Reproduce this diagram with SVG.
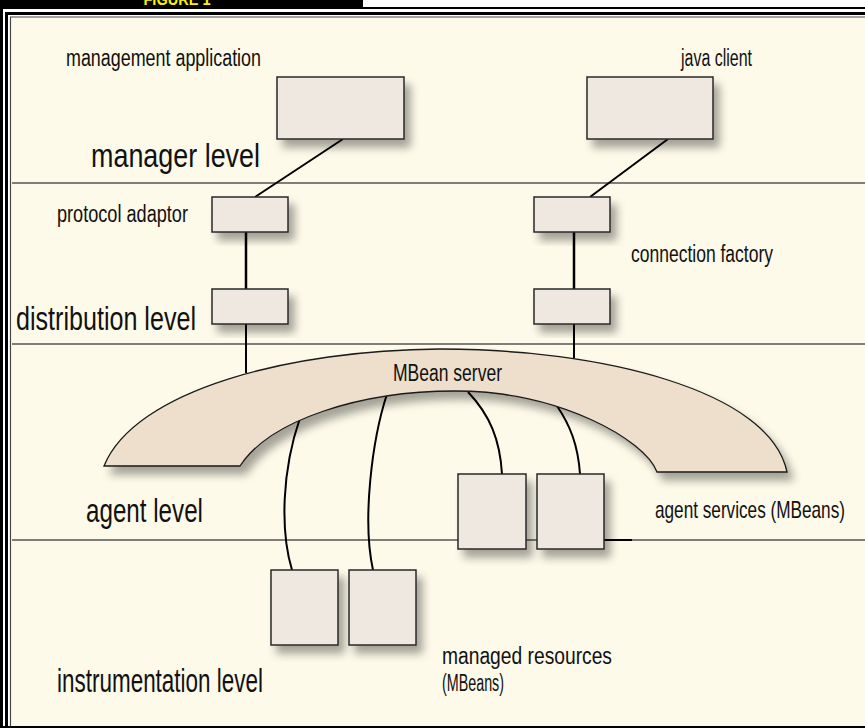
<svg xmlns="http://www.w3.org/2000/svg" width="865" height="728" viewBox="0 0 865 728">
  <defs>
    <filter id="shadow" x="-20%" y="-20%" width="150%" height="160%">
      <feDropShadow dx="6" dy="8" stdDeviation="4" flood-color="#000" flood-opacity="0.35"/>
    </filter>
    <style>
      .frame { stroke: #000; fill: none; }
      .band { stroke: #555; stroke-width: 1.5; fill: none; }
      .box { fill: #EEE8E0; stroke: #2a2a2a; stroke-width: 1.5; filter: url(#shadow); }
      .server { fill: #EDDFCB; stroke: #1a1a1a; stroke-width: 1.3; filter: url(#shadow); }
      .wire { stroke: #000; stroke-width: 2; fill: none; }
      .wire-thick { stroke: #000; stroke-width: 2.5; fill: none; }
      .lbl { font-family: "Liberation Sans", Arial, sans-serif; font-size: 23px; fill: #111; }
      .lvl { font-family: "Liberation Sans", Arial, sans-serif; font-size: 34px; fill: #111; }
      .tab { font-family: "Liberation Sans", Arial, sans-serif; font-size: 16px; font-weight: bold; fill: #FFF200; }
    </style>
  </defs>

  <!-- page background and frame -->
  <rect x="0" y="0" width="865" height="728" fill="#fff"/>
  <rect x="0" y="0" width="363" height="8" fill="#000"/>
  <text class="tab" x="177" y="5" text-anchor="middle" textLength="67" lengthAdjust="spacingAndGlyphs">FIGURE 1</text>
  <rect x="12" y="18" width="853" height="708" fill="#FDFAE9"/>
  <line class="frame" x1="0" y1="8" x2="865" y2="8" stroke-width="2"/>
  <line class="frame" x1="1.5" y1="0" x2="1.5" y2="728" stroke-width="3"/>
  <line class="frame" x1="5" y1="13.5" x2="865" y2="13.5" stroke-width="3"/>
  <line class="frame" x1="6.5" y1="12" x2="6.5" y2="728" stroke-width="3"/>
  <line x1="10" y1="17" x2="865" y2="17" stroke="#444" stroke-width="1.2"/>
  <line x1="10.5" y1="17" x2="10.5" y2="728" stroke="#444" stroke-width="1.2"/>
  <line class="frame" x1="0" y1="727" x2="865" y2="727" stroke-width="2"/>

  <!-- level separators -->
  <g id="bands">
    <line class="band" x1="12" y1="183" x2="865" y2="183"/>
    <line class="band" x1="12" y1="344" x2="865" y2="344"/>
    <line class="band" x1="12" y1="540" x2="865" y2="540"/>
    <line x1="604" y1="540" x2="632" y2="540" stroke="#000" stroke-width="2"/>
  </g>

  <!-- level labels -->
  <g id="levels">
    <text class="lvl" x="91" y="167" textLength="169" lengthAdjust="spacingAndGlyphs">manager level</text>
    <text class="lvl" x="16" y="330" textLength="180" lengthAdjust="spacingAndGlyphs">distribution level</text>
    <text class="lvl" x="86" y="522" textLength="117" lengthAdjust="spacingAndGlyphs">agent level</text>
    <text class="lvl" x="57" y="692" textLength="206" lengthAdjust="spacingAndGlyphs">instrumentation level</text>
  </g>

  <!-- connectors -->
  <g id="connectors">
    <line class="wire" x1="343" y1="139" x2="255" y2="197"/>
    <line class="wire" x1="668" y1="139" x2="590" y2="197"/>
    <line class="wire-thick" x1="246" y1="232" x2="246" y2="289"/>
    <line class="wire-thick" x1="574" y1="232" x2="574" y2="289"/>
    <line class="wire" x1="246" y1="324" x2="246" y2="373"/>
    <line class="wire" x1="574" y1="324" x2="574" y2="358"/>
    <path class="wire" d="M300,418 C282,470 280,530 292,570"/>
    <path class="wire" d="M387,394 C372,440 362,520 373,570"/>
    <path class="wire" d="M468,392 C490,415 500,440 502,474"/>
    <path class="wire" d="M557,406 C570,425 578,445 580,474"/>
  </g>

  <g id="management-application">
    <rect class="box" x="277" y="77" width="127" height="62"/>
    <text class="lbl" x="66" y="66" textLength="195" lengthAdjust="spacingAndGlyphs">management application</text>
  </g>
  <g id="java-client">
    <rect class="box" x="587" y="77" width="126" height="62"/>
    <text class="lbl" x="681" y="66" textLength="71" lengthAdjust="spacingAndGlyphs">java client</text>
  </g>
  <g id="protocol-adaptor">
    <rect class="box" x="212" y="197" width="76" height="35"/>
    <text class="lbl" x="57" y="222" textLength="131" lengthAdjust="spacingAndGlyphs">protocol adaptor</text>
  </g>
  <g id="adaptor-server-side">
    <rect class="box" x="212" y="289" width="76" height="35"/>
  </g>
  <g id="connection-factory">
    <rect class="box" x="534" y="197" width="76" height="35"/>
    <text class="lbl" x="631" y="262" textLength="142" lengthAdjust="spacingAndGlyphs">connection factory</text>
  </g>
  <g id="connector-server-side">
    <rect class="box" x="534" y="289" width="76" height="35"/>
  </g>

  <g id="mbean-server">
    <path class="server" d="M104,466 C135,390 290,350 440,349 C600,349 770,390 787,472 L657,472 C645,440 560,391 455,391 C360,391 270,420 240,466 Z"/>
    <text class="lbl" x="393" y="381" textLength="109" lengthAdjust="spacingAndGlyphs">MBean server</text>
  </g>

  <g id="agent-services">
    <rect class="box" x="458" y="474" width="68" height="75"/>
    <rect class="box" x="537" y="474" width="67" height="75"/>
    <text class="lbl" transform="translate(655,518) scale(0.748,1)" x="0" y="0" textLength="254" lengthAdjust="spacingAndGlyphs">agent services (MBeans)</text>
  </g>

  <g id="managed-resources">
    <rect class="box" x="271" y="570" width="67" height="75"/>
    <rect class="box" x="349" y="570" width="67" height="75"/>
    <text class="lbl" x="442" y="664" textLength="170" lengthAdjust="spacingAndGlyphs">managed resources</text>
    <text class="lbl" x="442" y="691" textLength="62" lengthAdjust="spacingAndGlyphs">(MBeans)</text>
  </g>
</svg>
